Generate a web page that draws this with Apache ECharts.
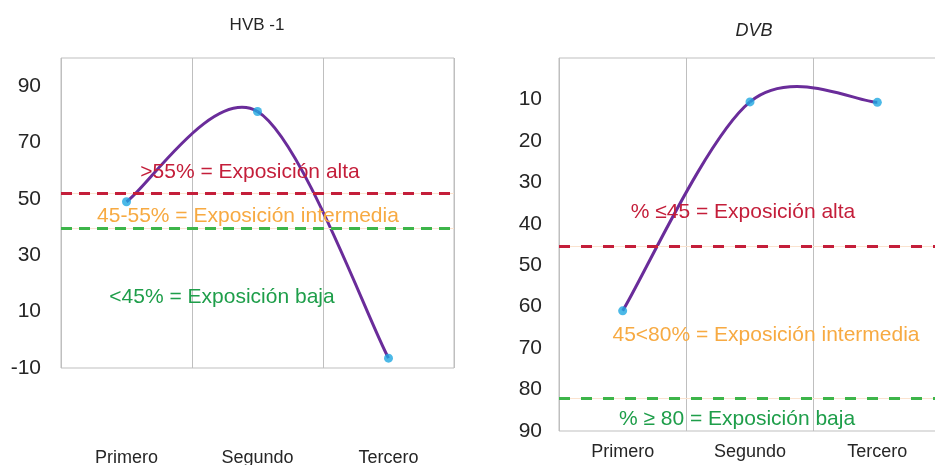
<!DOCTYPE html>
<html>
<head>
<meta charset="utf-8">
<script src="https://cdn.jsdelivr.net/npm/echarts@6/dist/echarts.min.js"></script>
<style>
html,body{margin:0;padding:0;background:#fff;}
#chart{width:935px;height:465px;}
</style>
</head>
<body>
<div id="chart"></div>
<script>
// ---- data ----
const categories = ['Primero', 'Segundo', 'Tercero'];
const hvbValues = [49, 81, -6.5];
const dvbValues = [61, 10.6, 10.7];
const hvbThresholds = [52, 39.5];   // alta, baja
const dvbThresholds = [45.5, 82];   // alta, baja
const hvbTicks = [-10, 10, 30, 50, 70, 90];
const dvbTicks = [10, 20, 30, 40, 50, 60, 70, 80, 90];

const FONT = '"Liberation Sans", Arial, sans-serif';
const RED = '#C41E3A', ORANGE = '#F7AA42', GREEN_T = '#1E9E4A', GREEN_L = '#3DB54A';
const PURPLE = '#6A2C9A', DOT = '#1FA8E1', GRIDC = '#BFBFBF';

function thresholdLines(vals, colors, dash) {
  const out = [];
  vals.forEach((v, i) => {
    out.push({ yAxis: v, lineStyle: { color: '#FBE3CF', type: 'solid', width: 1 } });
    out.push({ yAxis: v, lineStyle: { color: colors[i], type: dash, width: 3 } });
  });
  return out;
}

function xAxisCfg(gridIndex, margin) {
  return {
    type: 'category', gridIndex, data: categories, boundaryGap: true,
    axisLine: { show: false },
    axisTick: { show: false },
    splitLine: { show: true, lineStyle: { color: GRIDC, width: 1 } },
    axisLabel: { margin, color: '#262626', fontSize: 18, fontFamily: FONT }
  };
}

// Smooth curve (Catmull-Rom style, tension 1/6) through the data points,
// positioned through the chart's own axes via api.coord.
function smoothSeries(values, xi, yi, thresholds, dash) {
  return {
    type: 'custom', xAxisIndex: xi, yAxisIndex: yi, z: 4,
    data: values.map((v, i) => [i, v]),
    renderItem: function (params, api) {
      const i = params.dataIndex;
      const n = values.length;
      if (i >= n - 1) return { type: 'group', children: [] };
      const P = k => { const j = Math.max(0, Math.min(n - 1, k)); return api.coord([j, values[j]]); };
      const p0 = P(i - 1), p1 = P(i), p2 = P(i + 1), p3 = P(i + 2);
      return {
        type: 'bezierCurve',
        shape: {
          x1: p1[0], y1: p1[1], x2: p2[0], y2: p2[1],
          cpx1: p1[0] + (p2[0] - p0[0]) / 6, cpy1: p1[1] + (p2[1] - p0[1]) / 6,
          cpx2: p2[0] - (p3[0] - p1[0]) / 6, cpy2: p2[1] - (p3[1] - p1[1]) / 6
        },
        style: { stroke: PURPLE, lineWidth: 3, fill: null }
      };
    },
    markLine: { silent: true, symbol: 'none', label: { show: false },
      data: thresholdLines(thresholds, [RED, GREEN_L], dash) }
  };
}

function dotSeries(values, xi, yi) {
  return { type: 'scatter', xAxisIndex: xi, yAxisIndex: yi, data: values, z: 6,
    symbol: 'circle', symbolSize: 9, itemStyle: { color: DOT } };
}

const chart = echarts.init(document.getElementById('chart'), null, { renderer: 'canvas' });
chart.setOption({
  backgroundColor: '#fff',
  animation: false,
  title: [
    { text: 'HVB -1', left: 252, top: 20, textAlign: 'center', textVerticalAlign: 'middle',
      textStyle: { fontSize: 17, fontWeight: 'normal', color: '#262626', fontFamily: FONT } },
    { text: 'DVB', left: 749, top: 26, textAlign: 'center', textVerticalAlign: 'middle',
      textStyle: { fontSize: 18, fontWeight: 'normal', fontStyle: 'italic', color: '#262626', fontFamily: FONT } }
  ],
  grid: [
    { left: 61, top: 58, width: 393, height: 310, show: true, borderColor: GRIDC, borderWidth: 1,
      containLabel: false, outerBoundsMode: 'none' },
    { left: 559, top: 58, width: 382, height: 373, show: true, borderColor: GRIDC, borderWidth: 1,
      containLabel: false, outerBoundsMode: 'none' }
  ],
  xAxis: [xAxisCfg(0, 81), xAxisCfg(1, 12)],
  yAxis: [
    { type: 'value', gridIndex: 0, min: -10, max: 100, interval: 10,
      axisLine: { show: false }, axisTick: { show: false }, splitLine: { show: false },
      axisLabel: { margin: 20, color: '#262626', fontSize: 21, fontFamily: FONT,
        formatter: v => hvbTicks.includes(v) ? String(v) : '' } },
    { type: 'value', gridIndex: 1, inverse: true, min: 0, max: 90, interval: 10,
      axisLine: { show: false }, axisTick: { show: false }, splitLine: { show: false },
      axisLabel: { margin: 17, color: '#262626', fontSize: 21, fontFamily: FONT,
        formatter: v => dvbTicks.includes(v) ? String(v) : '' } }
  ],
  series: [
    smoothSeries(hvbValues, 0, 0, hvbThresholds, [11, 7]),
    dotSeries(hvbValues, 0, 0),
    smoothSeries(dvbValues, 1, 1, dvbThresholds, [11, 11]),
    dotSeries(dvbValues, 1, 1)
  ],
  graphic: [
    { type: 'text', x: 250, y: 172, z: 10, style: { text: '>55% = Exposición alta', fill: RED, font: '21px ' + FONT, textAlign: 'center', textVerticalAlign: 'middle' } },
    { type: 'text', x: 248, y: 216, z: 10, style: { text: '45-55% = Exposición intermedia', fill: ORANGE, font: '21px ' + FONT, textAlign: 'center', textVerticalAlign: 'middle' } },
    { type: 'text', x: 222, y: 297, z: 10, style: { text: '<45% = Exposición baja', fill: GREEN_T, font: '21px ' + FONT, textAlign: 'center', textVerticalAlign: 'middle' } },
    { type: 'text', x: 743, y: 212, z: 10, style: { text: '% ≤45 = Exposición alta', fill: RED, font: '21px ' + FONT, textAlign: 'center', textVerticalAlign: 'middle' } },
    { type: 'text', x: 766, y: 335, z: 10, style: { text: '45<80% = Exposición intermedia', fill: ORANGE, font: '21px ' + FONT, textAlign: 'center', textVerticalAlign: 'middle' } },
    { type: 'text', x: 737, y: 419, z: 10, style: { text: '% ≥ 80 = Exposición baja', fill: GREEN_T, font: '21px ' + FONT, textAlign: 'center', textVerticalAlign: 'middle' } }
  ]
});
</script>
</body>
</html>
